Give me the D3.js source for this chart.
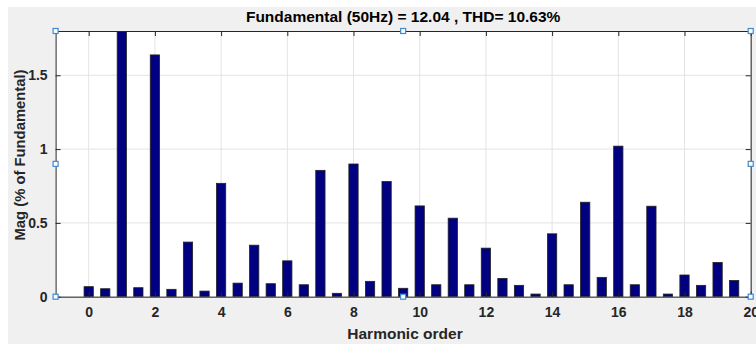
<!DOCTYPE html>
<html><head><meta charset="utf-8">
<script src="https://cdn.jsdelivr.net/npm/d3@7"></script>
<style>body{margin:0;background:#fff}svg{display:block}text{font-family:"Liberation Sans",Arial,sans-serif;}</style>
</head><body>
<script>
const harmonics = [0,0.5,1,1.5,2,2.5,3,3.5,4,4.5,5,5.5,6,6.5,7,7.5,8,8.5,9,9.5,10,10.5,11,11.5,12,12.5,13,13.5,14,14.5,15,15.5,16,16.5,17,17.5,18,18.5,19,19.5];
const magnitudes = [0.068,0.054,100,0.061,1.638,0.05,0.37,0.038,0.768,0.092,0.349,0.088,0.243,0.081,0.856,0.023,0.899,0.104,0.78,0.057,0.615,0.081,0.532,0.081,0.329,0.124,0.077,0.018,0.426,0.081,0.64,0.131,1.02,0.081,0.613,0.018,0.147,0.077,0.232,0.11];
const xTicks = [0,2,4,6,8,10,12,14,16,18,20];
const yTicks = [0,0.5,1,1.5];
const titleText = "Fundamental (50Hz) = 12.04 , THD= 10.63%";

const W=756,H=344;
const L=55.6,R=750.7,T=31,B=296.7;
const svg=d3.select("body").append("svg").attr("width",W).attr("height",H);
svg.append("rect").attr("x",8).attr("y",7).attr("width",W-8).attr("height",H-7).attr("fill","#f0f0f0");
const x=d3.scaleLinear().domain([-1,20]).range([L,R]);
const y=d3.scaleLinear().domain([0,1.8]).range([B,T]);
svg.append("rect").attr("x",L).attr("y",T).attr("width",R-L).attr("height",B-T).attr("fill","#fff");
// grid
svg.append("g").selectAll("line").data(xTicks).join("line")
 .attr("x1",d=>x(d)).attr("x2",d=>x(d)).attr("y1",T).attr("y2",B).attr("stroke","#e3e3e3");
svg.append("g").selectAll("line").data(yTicks).join("line")
 .attr("y1",d=>y(d)).attr("y2",d=>y(d)).attr("x1",L).attr("x2",R).attr("stroke","#e3e3e3");
// bars
svg.append("clipPath").attr("id","c").append("rect").attr("x",L).attr("y",T).attr("width",R-L).attr("height",B-T);
const bw = x(0.28)-x(0);
svg.append("g").attr("clip-path","url(#c)").selectAll("rect").data(harmonics).join("rect")
 .attr("x",d=>x(d)-bw/2).attr("width",bw)
 .attr("y",(d,i)=>y(Math.min(magnitudes[i],2)))
 .attr("height",(d,i)=>B-y(Math.min(magnitudes[i],2)))
 .attr("fill","#000080").attr("stroke","#222").attr("stroke-width",0.8);
// axes
const fmt=d=>String(d);
const xb=svg.append("g").attr("transform",`translate(0,${B})`).call(d3.axisBottom(x).tickValues(xTicks).tickFormat(fmt).tickSizeInner(-5).tickSizeOuter(0).tickPadding(10));
const xt=svg.append("g").attr("transform",`translate(0,${T})`).call(d3.axisTop(x).tickValues(xTicks).tickFormat("").tickSizeInner(-5).tickSizeOuter(0));
const yl=svg.append("g").attr("transform",`translate(${L},0)`).call(d3.axisLeft(y).tickValues(yTicks).tickFormat(fmt).tickSizeInner(-5).tickSizeOuter(0).tickPadding(8));
const yr=svg.append("g").attr("transform",`translate(${R},0)`).call(d3.axisRight(y).tickValues(yTicks).tickFormat("").tickSizeInner(-5).tickSizeOuter(0));
[xb,xt,yl,yr].forEach(g=>{g.selectAll("path").attr("stroke","#262626");g.selectAll("line").attr("stroke","#262626");
 g.selectAll("text").attr("fill","#262626").attr("font-size",14).attr("font-weight","bold").attr("font-family","Liberation Sans, Arial, sans-serif");});
// title and labels
svg.append("text").attr("x",(L+R)/2).attr("y",21.5).attr("text-anchor","middle").attr("font-size",15.5).attr("font-weight","bold").attr("fill","#000").text(titleText);
svg.append("text").attr("x",405).attr("y",339).attr("text-anchor","middle").attr("font-size",15.5).attr("font-weight","bold").attr("fill","#262626").text("Harmonic order");
svg.append("text").attr("transform",`translate(25,155) rotate(-90)`).attr("text-anchor","middle").attr("font-size",14.8).attr("font-weight","bold").attr("fill","#262626").text("Mag (% of Fundamental)");
// selection handles
const hx=[L,(L+R)/2,R], hy=[T,(T+B)/2,B];
const handles=[];hx.forEach((a,i)=>hy.forEach((b,j)=>{if(!(i==1&&j==1))handles.push([a,b]);}));
svg.append("g").selectAll("rect").data(handles).join("rect").attr("x",d=>d[0]-2.5).attr("y",d=>d[1]-2.5).attr("width",5).attr("height",5)
 .attr("fill","#fff").attr("stroke","#3d8ad1").attr("stroke-width",1.2);
</script>
</body></html>
